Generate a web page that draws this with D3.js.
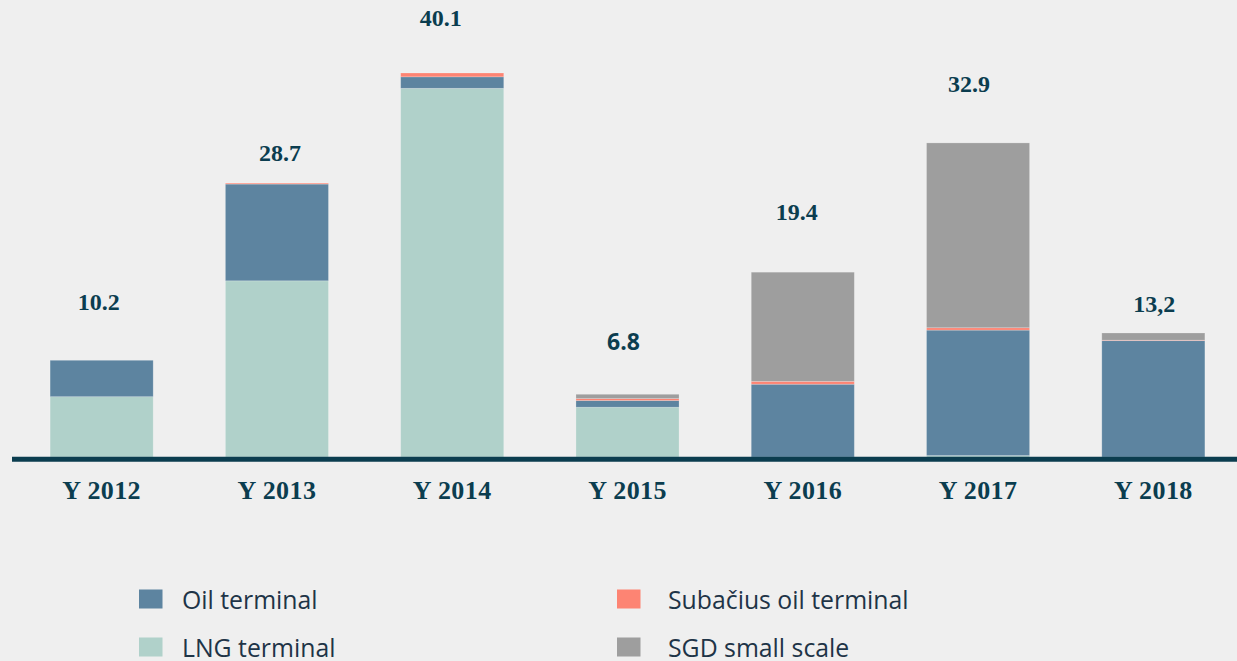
<!DOCTYPE html>
<html>
<head>
<meta charset="utf-8">
<script src="https://cdn.jsdelivr.net/npm/d3@7"></script>
<style>
  html, body { margin: 0; padding: 0; background: #efefef; }
  svg { display: block; }
</style>
</head>
<body>
<svg id="chart" width="1237" height="661"></svg>
<script>
// ---- data ----
const categories = ["Y 2012", "Y 2013", "Y 2014", "Y 2015", "Y 2016", "Y 2017", "Y 2018"];
const lngTerminal = [6.3, 18.4, 38.5, 5.2, 0, 0.15, 0];
const oilTerminal = [3.8, 10.1, 1.2, 0.7, 7.6, 13.1, 12.15];
const subaciusOilTerminal = [0, 0.1, 0.4, 0.2, 0.3, 0.25, 0.05];
const sgdSmallScale = [0, 0, 0, 0.45, 11.4, 19.3, 0.75];
const totalLabels = ["10.2", "28.7", "40.1", "6.8", "19.4", "32.9", "13,2"];
const seriesNames = ["LNG terminal", "Oil terminal", "Subačius oil terminal", "SGD small scale"];

// ---- layout / style (not data) ----
const colors = {
  "Oil terminal": "#5d84a0",
  "LNG terminal": "#b0d1ca",
  "Subačius oil terminal": "#fd8473",
  "SGD small scale": "#9e9e9e"
};
const labelDx = [-3, 3, -11.5, -4, -6, -9, 1];
const labelGap = [50, 22, 47, 44, 52, 50.5, 21];
const labelSans = [false, false, false, true, false, false, false];

const svg = d3.select("#chart");
const baseline = 457;

const x = d3.scaleBand()
  .domain(categories)
  .range([14, 1241])
  .paddingInner(0.412)
  .paddingOuter(0.206);

const y = d3.scaleLinear()
  .domain([0, 40.1])
  .range([baseline, 73]);

const seriesArrays = {
  "LNG terminal": lngTerminal,
  "Oil terminal": oilTerminal,
  "Subačius oil terminal": subaciusOilTerminal,
  "SGD small scale": sgdSmallScale
};
const table = categories.map((c, i) => {
  const row = { cat: c };
  seriesNames.forEach(s => row[s] = seriesArrays[s][i]);
  return row;
});

const stack = d3.stack().keys(seriesNames);
const stacked = stack(table);

svg.append("g")
  .selectAll("g")
  .data(stacked)
  .join("g")
  .attr("fill", d => colors[d.key])
  .selectAll("rect")
  .data(d => d.filter(p => p[1] - p[0] > 0))
  .join("rect")
  .attr("x", d => x(d.data.cat))
  .attr("width", x.bandwidth())
  .attr("y", d => y(d[1]))
  .attr("height", d => y(d[0]) - y(d[1]))
  .attr("stroke", "rgba(255,255,255,0.25)")
  .attr("stroke-width", 0.8);

// axis line
svg.append("line")
  .attr("x1", 12).attr("x2", 1237)
  .attr("y1", 459.2).attr("y2", 459.2)
  .attr("stroke", "#0b3d4f")
  .attr("stroke-width", 5);

// x axis labels
const axis = svg.append("g")
  .attr("transform", `translate(0,${baseline})`)
  .call(d3.axisBottom(x).tickSize(0).tickPadding(0));
axis.select(".domain").remove();
axis.selectAll("text")
  .attr("dy", null)
  .attr("y", 41.5)
  .attr("font-family", "'Liberation Serif', serif")
  .attr("font-weight", "bold")
  .attr("font-size", 26)
  .attr("letter-spacing", 0.4)
  .attr("fill", "#0b3d4f");

// totals
const totals = table.map(r => seriesNames.reduce((a, s) => a + r[s], 0));
svg.append("g")
  .selectAll("text")
  .data(categories)
  .join("text")
  .attr("x", (c, i) => x(c) + x.bandwidth() / 2 + labelDx[i])
  .attr("y", (c, i) => y(totals[i]) - labelGap[i])
  .attr("text-anchor", "middle")
  .attr("font-family", (c, i) => labelSans[i] ? "'Open Sans', sans-serif" : "'Liberation Serif', serif")
  .attr("font-weight", "bold")
  .attr("font-size", (c, i) => labelSans[i] ? 23 : 24)
  .attr("fill", "#0b3d4f")
  .text((c, i) => totalLabels[i]);

// legend
const legendItems = [
  { name: "Oil terminal", x: 139, y: 599, tx: 43 },
  { name: "Subačius oil terminal", x: 617, y: 599, tx: 51 },
  { name: "LNG terminal", x: 139, y: 647, tx: 43 },
  { name: "SGD small scale", x: 617, y: 647, tx: 51 }
];
const lg = svg.append("g")
  .selectAll("g")
  .data(legendItems)
  .join("g")
  .attr("transform", d => `translate(${d.x},${d.y})`);
lg.append("rect")
  .attr("x", 0).attr("y", -9.5)
  .attr("width", 23.5).attr("height", 19)
  .attr("fill", d => colors[d.name]);
lg.append("text")
  .attr("x", d => d.tx)
  .attr("y", 9.5)
  .attr("font-family", "'Open Sans', sans-serif")
  .attr("font-size", 24.8)
  .attr("fill", "#1e3447")
  .text(d => d.name);
</script>
</body>
</html>
